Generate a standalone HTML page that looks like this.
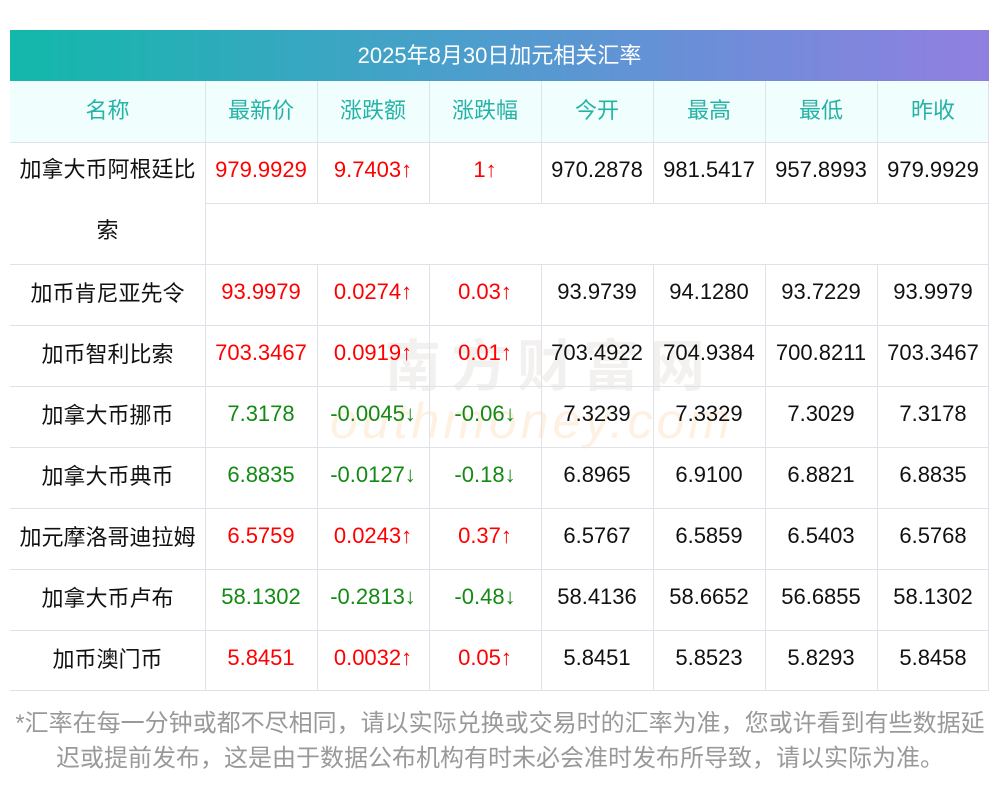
<!DOCTYPE html>
<html><head><meta charset="utf-8">
<style>
body{margin:0;width:1000px;height:793px;background:#fff;position:relative;overflow:hidden;font-family:"Liberation Sans","Noto Sans CJK SC",sans-serif;}
.c{position:absolute;display:flex;align-items:center;justify-content:center;font-size:22px;box-sizing:border-box;padding-bottom:5px;}
.ln{position:absolute;background:#e1e1ea;}
#title{position:absolute;left:10px;top:30px;width:979px;height:51px;background:linear-gradient(90deg,#12b8aa,#4a9fcc 45%,#6a8fd8 70%,#917fe0);color:#fff;font-size:22px;display:flex;align-items:center;justify-content:center;box-sizing:border-box;padding-bottom:4px;}
#hdr{position:absolute;left:10px;top:81px;width:979px;height:61px;background:#f0fefe;}
#wm1{position:absolute;left:385px;top:322px;font-size:56px;color:rgba(200,190,180,0.22);letter-spacing:10px;font-weight:bold;}
#wm2{position:absolute;left:330px;top:392px;font-size:50px;color:rgba(250,200,140,0.25);font-style:italic;letter-spacing:4px;}
#note{position:absolute;left:0;top:706px;width:1000px;text-align:center;font-size:24px;line-height:35px;color:#999;}
</style></head>
<body>
<div id="title">2025年8月30日加元相关汇率</div>
<div id="hdr"></div>
<div id="wm1">南方财富网</div>
<div id="wm2">outhmoney.com</div>
<div id="note">*汇率在每一分钟或都不尽相同，请以实际兑换或交易时的汇率为准，您或许看到有些数据延<br>迟或提前发布，这是由于数据公布机构有时未必会准时发布所导致，请以实际为准。</div>
<script>
const headers=["名称","最新价","涨跌额","涨跌幅","今开","最高","最低","昨收"];
const names=["加拿大币阿根廷比索","加币肯尼亚先令","加币智利比索","加拿大币挪币","加拿大币典币","加元摩洛哥迪拉姆","加拿大币卢布","加币澳门币"];
const latest=["979.9929","93.9979","703.3467","7.3178","6.8835","6.5759","58.1302","5.8451"];
const change=["9.7403↑","0.0274↑","0.0919↑","-0.0045↓","-0.0127↓","0.0243↑","-0.2813↓","0.0032↑"];
const pct=["1↑","0.03↑","0.01↑","-0.06↓","-0.18↓","0.37↑","-0.48↓","0.05↑"];
const open=["970.2878","93.9739","703.4922","7.3239","6.8965","6.5767","58.4136","5.8451"];
const high=["981.5417","94.1280","704.9384","7.3329","6.9100","6.5859","58.6652","5.8523"];
const low=["957.8993","93.7229","700.8211","7.3029","6.8821","6.5403","56.6855","5.8293"];
const prev=["979.9929","93.9979","703.3467","7.3178","6.8835","6.5768","58.1302","5.8458"];
const xs=[10,205,317,429,541,653,765,877,989];
const body=document.body;
function cell(x,y,w,h,txt,color,name){
  const d=document.createElement('div');d.className='c';
  d.style.cssText=`left:${x}px;top:${y}px;width:${w}px;height:${h}px;color:${color}`;
  d.textContent=txt;
  
  
  body.appendChild(d);return d;
}
function line(x,y,w,h){
  const d=document.createElement('div');d.className='ln';
  d.style.cssText=`left:${x}px;top:${y}px;width:${w}px;height:${h}px`;
  
  
  body.appendChild(d);
}
headers.forEach((h,i)=>cell(xs[i],81,xs[i+1]-xs[i],61,h,'#26b3a6','header-'+i));
const tops=[142,264,325,386,447,508,569,630];
names.forEach((n,r)=>{
  const y=tops[r];
  const up=change[r].indexOf('-')<0;
  const col=up?'#ff0000':'#138a13';
  if(r===0){
    const d=cell(10,139,195,122,'','#111','name-cell-0');
    d.style.lineHeight='61px';d.style.display='block';d.style.textAlign='center';d.style.padding='0 9px';
    d.textContent=n;
  } else cell(10,y,195,61,n,'#111','name-cell-'+r);
  cell(xs[1],y,112,61,latest[r],col,'latest-'+r);
  cell(xs[2],y,112,61,change[r],col,'change-'+r);
  cell(xs[3],y,112,61,pct[r],col,'pct-'+r);
  cell(xs[4],y,112,61,open[r],'#111','open-'+r);
  cell(xs[5],y,112,61,high[r],'#111','high-'+r);
  cell(xs[6],y,112,61,low[r],'#111','low-'+r);
  cell(xs[7],y,112,61,prev[r],'#111','prev-'+r);
});
[142,264,325,386,447,508,569,630,690].forEach(y=>line(10,y,979,1));
line(205,203,784,1);
line(205,81,1,610);
[317,429,541,653,765,877].forEach(x=>{line(x,81,1,123);line(x,264,1,427);});
line(988,81,1,610);
</script>
</body></html>
